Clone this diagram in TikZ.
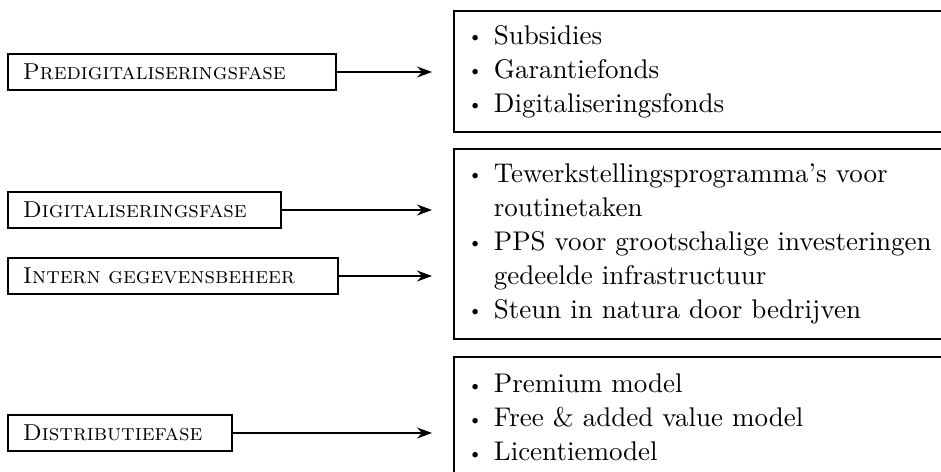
\documentclass[tikz,border=0pt]{standalone}
\usepackage{tikz}
\usetikzlibrary{arrows.meta, positioning}

\newcommand{\bul}{\makebox[10.4pt][l]{\raisebox{0.6pt}{\scalebox{0.7}{\textbullet}}}}
\newcommand{\cont}{\hspace*{10.4pt}}

\begin{document}
\begin{tikzpicture}[
    x=0.4pt, y=-0.4pt,
    phase/.style={draw, rectangle, line width=0.7pt, anchor=west, minimum height=14.4pt, inner xsep=6pt, align=left, font=\fontsize{9.2}{11}\selectfont\scshape},
    measures/.style={draw, rectangle, line width=0.7pt, anchor=north west, inner xsep=5.6pt, inner ysep=0pt, text width=200pt, align=left, font=\fontsize{10.8}{13.6}\selectfont},
    link/.style={-{Stealth[length=6pt, width=4.4pt]}, line width=0.5pt},
]
\clip (0,0) rectangle (941,472);

% Phase nodes
\node[phase, text width=119.2pt] (pre) at (7,72) {Predigitaliseringsfase};
\node[phase, text width=97.2pt] (dig) at (7,210) {Digitaliseringsfase};
\node[phase, text width=120pt] (intern) at (7,276) {Intern gegevensbeheer};
\node[phase, text width=77.6pt] (distr) at (7,433) {Distributiefase};

% Measure boxes
\node[measures, minimum height=48.4pt] (m1) at (453,10) {\bul Subsidies\\ \bul Garantiefonds\\ \bul Digitaliseringsfonds};
\node[measures, minimum height=76pt] (m2) at (453,148) {\bul Tewerkstellingsprogramma's voor\\ \cont routinetaken\\ \bul PPS voor grootschalige investeringen\\ \cont gedeelde infrastructuur\\ \bul Steun in natura door bedrijven};
\node[measures, minimum height=48.4pt] (m3) at (453,356) {\bul Premium model\\ \bul Free \& added value model\\ \bul Licentiemodel};

% Arrow ends
\coordinate (e1) at (432,72);
\coordinate (e2) at (432,210);
\coordinate (e3) at (432,276);
\coordinate (e4) at (432,433);

\draw[link] (pre.east) -- (e1);
\draw[link] (dig.east) -- (e2);
\draw[link] (intern.east) -- (e3);
\draw[link] (distr.east) -- (e4);

\end{tikzpicture}
\end{document}
